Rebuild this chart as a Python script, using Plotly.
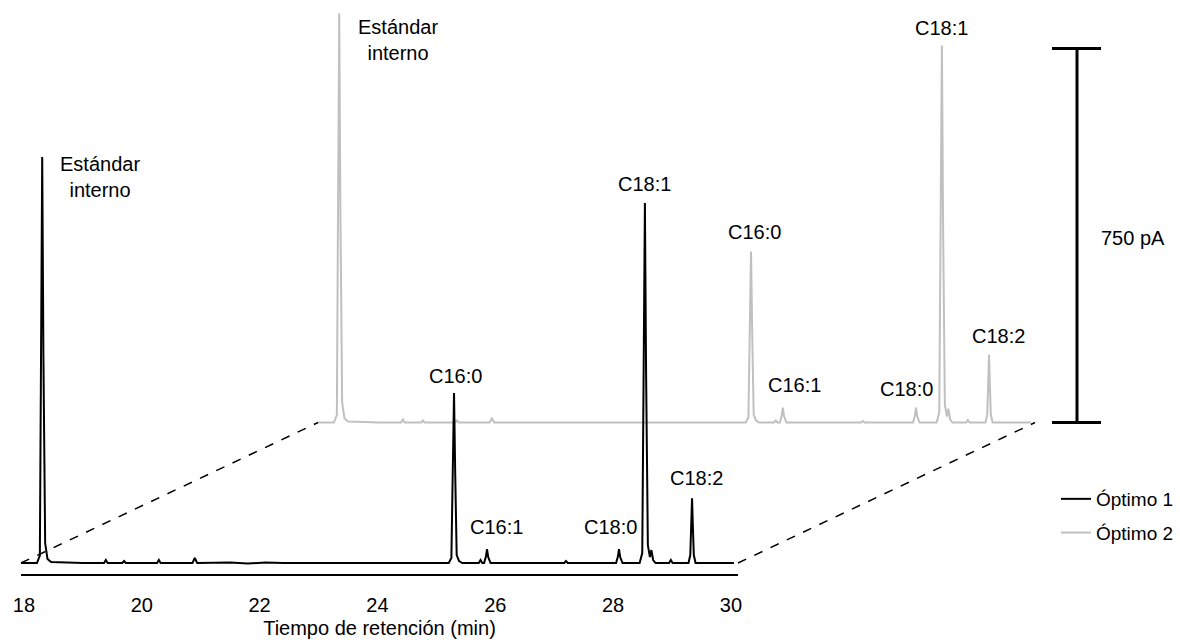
import plotly.graph_objects as go

# ---------------------------------------------------------------
# Chromatograms (retention time in min, detector signal in pA)
# ---------------------------------------------------------------
t_optimo1 = [17.95,
             18.22, 18.27, 18.29, 18.31, 18.33, 18.36, 18.40, 18.46,
             19.00, 19.36, 19.39, 19.42, 19.67, 19.70, 19.73,
             20.26, 20.29, 20.32, 20.86, 20.90, 20.94,
             21.50, 21.80, 22.10, 22.40, 24.60,
             25.21, 25.255, 25.28, 25.30, 25.32, 25.345, 25.385, 25.44,
             25.72, 25.75, 25.78,
             25.81, 25.84, 25.86, 25.88, 25.92,
             26.60, 27.17, 27.20, 27.23,
             28.05, 28.08, 28.10, 28.12, 28.16,
             28.45, 28.495, 28.52, 28.54, 28.56, 28.59, 28.625, 28.65, 28.68, 28.72,
             28.95, 28.98, 29.01,
             29.28, 29.31, 29.325, 29.34, 29.355, 29.37, 29.40,
             30.05]
s_optimo1 = [0,
             0, 15, 420, 814, 420, 40, 8, 2,
             0, 0, 6, 0, 0, 4, 0,
             0, 6, 0, 0, 10, 0,
             1, -1, 1, 0, 0,
             0, 10, 180, 341, 180, 16, 4, 0,
             0, 6, 0,
             0, 12, 28, 12, 0,
             0, 0, 4, 0,
             0, 12, 28, 12, 0,
             0, 20, 380, 722, 380, 36, 12, 26, 6, 0,
             0, 6, 0,
             0, 16, 70, 130, 70, 16, 0,
             0]

t_optimo2 = [17.95,
             18.22, 18.27, 18.29, 18.31, 18.33, 18.36, 18.40, 18.46,
             19.00, 19.36, 19.39, 19.42, 19.70, 19.73, 19.76,
             20.28, 20.31, 20.34, 20.86, 20.90, 20.94,
             21.50, 22.30, 24.60,
             25.21, 25.255, 25.28, 25.30, 25.32, 25.345, 25.385, 25.44,
             25.69, 25.72, 25.75,
             25.79, 25.82, 25.84, 25.86, 25.90,
             26.60, 27.17, 27.20, 27.23,
             28.05, 28.08, 28.10, 28.12, 28.16,
             28.45, 28.495, 28.52, 28.54, 28.56, 28.59, 28.625, 28.65, 28.68, 28.72,
             28.95, 28.98, 29.01,
             29.28, 29.31, 29.325, 29.34, 29.355, 29.37, 29.40,
             30.05]
s_optimo2 = [0,
             0, 15, 425, 820, 425, 40, 8, 2,
             0, 0, 6, 0, 0, 4, 0,
             0, 4, 0, 0, 8, 0,
             0, 0, 0,
             0, 10, 180, 343, 180, 16, 4, 0,
             0, 4, 0,
             0, 13, 30, 13, 0,
             0, 0, 3, 0,
             0, 13, 30, 13, 0,
             0, 20, 395, 756, 395, 36, 12, 28, 6, 0,
             0, 5, 0,
             0, 16, 72, 136, 72, 16, 0,
             0]

# Identified peaks (label, retention time, height in pA)
peaks1_names = ["Estándar<br>interno", "C16:0", "C16:1", "C18:0", "C18:1", "C18:2"]
peaks1_rt = [18.31, 25.30, 25.86, 28.10, 28.54, 29.34]
peaks1_pa = [814, 341, 28, 28, 722, 130]

peaks2_names = ["Estándar<br>interno", "C16:0", "C16:1", "C18:0", "C18:1", "C18:2"]
peaks2_rt = [18.31, 25.30, 25.84, 28.10, 28.54, 29.34]
peaks2_pa = [820, 343, 30, 30, 756, 136]

x_ticks = [18, 20, 22, 24, 26, 28, 30]
scale_bar_pa = 750

# ---------------------------------------------------------------
# Geometry of the two staggered panels (pixels)
# ---------------------------------------------------------------
W, H = 1180, 643
FONT = "Liberation Sans, Arial, sans-serif"
FS = 20

x_left, x_right = 21, 738          # front panel horizontal extent
front_bottom = 574                 # front panel axis line
dx, dy = 297, 140.5                # offset of the rear panel
pa_per_px = 750 / 374.0
t_range = [17.95, 30.12]
y_floor = -22

back_bottom = front_bottom - dy
front_top_pa = y_floor + front_bottom * pa_per_px
back_top_pa = y_floor + back_bottom * pa_per_px


def px_x(p):
    return p / W


def px_y(p):
    return (H - p) / H


fig = go.Figure()

# rear chromatogram (drawn first so the front one sits on top)
fig.add_trace(go.Scatter(
    x=t_optimo2, y=s_optimo2, mode="lines", name="Óptimo 2",
    line=dict(color="#c0c0c0", width=2), xaxis="x", yaxis="y",
    legendgroup="b", legendrank=2, hoverinfo="skip"))

fig.add_trace(go.Scatter(
    x=t_optimo1, y=s_optimo1, mode="lines", name="Óptimo 1",
    line=dict(color="#000000", width=2), xaxis="x2", yaxis="y2",
    legendgroup="a", legendrank=1, hoverinfo="skip"))

# peak labels
label_offsets1 = [(58, -20), (1, 17), (9, 22), (-8, 22), (0, 19), (4, 20)]
label_offsets2 = [(59, -26), (3, 19), (12, 23), (-9, 19), (0, 18), (9, 19)]

annotations = []
for name, rt, h, (xs, ys) in zip(peaks1_names, peaks1_rt, peaks1_pa, label_offsets1):
    annotations.append(dict(x=rt, y=h, xref="x2", yref="y2", text=name,
                            showarrow=False, xshift=xs, yshift=ys,
                            xanchor="center", yanchor="middle",
                            font=dict(family=FONT, size=FS, color="black")))
for name, rt, h, (xs, ys) in zip(peaks2_names, peaks2_rt, peaks2_pa, label_offsets2):
    annotations.append(dict(x=rt, y=h, xref="x", yref="y", text=name,
                            showarrow=False, xshift=xs, yshift=ys,
                            xanchor="center", yanchor="middle",
                            font=dict(family=FONT, size=FS, color="black")))

# scale bar label
annotations.append(dict(x=px_x(1133), y=scale_bar_pa / 2, xref="paper", yref="y",
                        text=f"{scale_bar_pa} pA", showarrow=False,
                        xanchor="center", yanchor="middle", yshift=-2,
                        font=dict(family=FONT, size=FS, color="black")))

# perspective guides joining the two baselines
front_base = front_bottom - (0 - y_floor) / pa_per_px
back_base = front_base - dy
shapes = [
    dict(type="line", xref="paper", yref="paper",
         x0=px_x(x_left), y0=px_y(front_base),
         x1=px_x(x_left + dx), y1=px_y(back_base),
         line=dict(color="black", width=1.5, dash="dash")),
    dict(type="line", xref="paper", yref="paper",
         x0=px_x(x_right), y0=px_y(front_base),
         x1=px_x(x_right + dx), y1=px_y(back_base),
         line=dict(color="black", width=1.5, dash="dash")),
    # scale bar
    dict(type="line", xref="paper", yref="y",
         x0=px_x(1077), x1=px_x(1077), y0=0, y1=scale_bar_pa,
         line=dict(color="black", width=3)),
    dict(type="line", xref="paper", yref="y",
         x0=px_x(1052), x1=px_x(1101), y0=0, y1=0,
         line=dict(color="black", width=3)),
    dict(type="line", xref="paper", yref="y",
         x0=px_x(1052), x1=px_x(1101), y0=scale_bar_pa, y1=scale_bar_pa,
         line=dict(color="black", width=3)),
]

hidden = dict(visible=False, showgrid=False, zeroline=False, fixedrange=True)

fig.update_layout(
    width=W, height=H,
    margin=dict(l=0, r=0, t=0, b=0),
    paper_bgcolor="white", plot_bgcolor="rgba(0,0,0,0)",
    font=dict(family=FONT, size=FS, color="black"),
    xaxis=dict(domain=[px_x(x_left + dx), px_x(x_right + dx)], range=t_range,
               anchor="y", **hidden),
    yaxis=dict(domain=[px_y(back_bottom), 1], range=[y_floor, back_top_pa],
               anchor="x", **hidden),
    xaxis2=dict(domain=[px_x(x_left), px_x(x_right)], range=t_range, anchor="y2",
                showline=True, linecolor="black", linewidth=2,
                showgrid=False, zeroline=False, fixedrange=True,
                tickmode="array", tickvals=x_ticks,
                ticktext=[str(v) for v in x_ticks],
                ticks="", ticklabelstandoff=12,
                tickfont=dict(family=FONT, size=FS, color="black"),
                title=dict(text="Tiempo de retención (min)", standoff=6,
                           font=dict(family=FONT, size=FS, color="black")),
                automargin=False),
    yaxis2=dict(domain=[px_y(front_bottom), 1], range=[y_floor, front_top_pa],
                anchor="x2", **hidden),
    showlegend=True,
    legend=dict(x=px_x(1056), y=px_y(480), xanchor="left", yanchor="top",
                traceorder="grouped", tracegroupgap=6,
                bgcolor="rgba(0,0,0,0)", borderwidth=0,
                font=dict(family=FONT, size=FS - 1, color="black")),
    annotations=annotations,
    shapes=shapes,
)

fig.write_html("out.html")
